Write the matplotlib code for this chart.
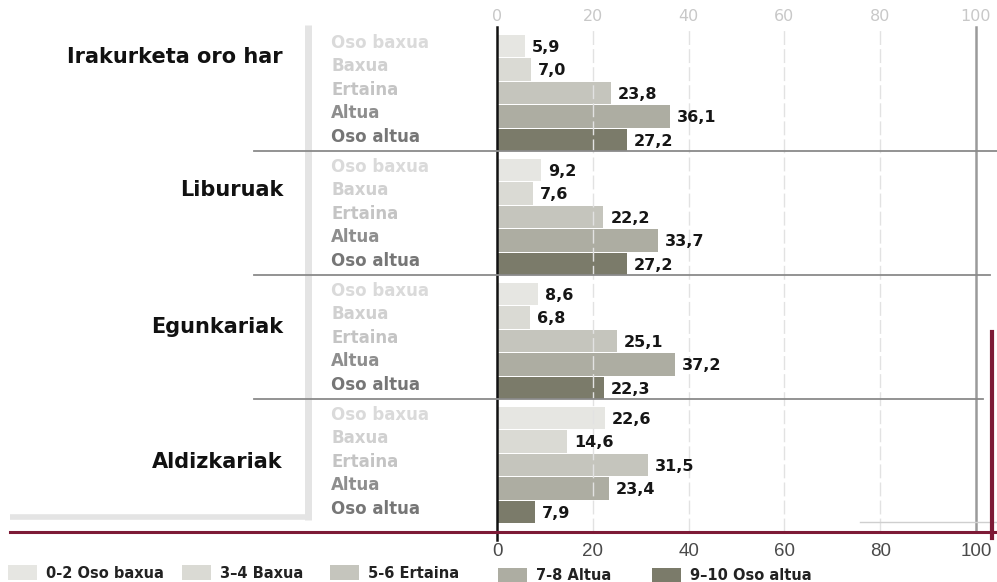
import matplotlib
matplotlib.use('Agg')
import matplotlib.pyplot as plt
from matplotlib.lines import Line2D
from matplotlib.patches import Rectangle
import matplotlib.transforms as mtrans

# ---------------- data ----------------
groups = ["Irakurketa oro har", "Liburuak", "Egunkariak", "Aldizkariak"]
levels = ["Oso baxua", "Baxua", "Ertaina", "Altua", "Oso altua"]
legend_labels = ["0-2 Oso baxua", "3\u20134 Baxua", "5-6 Ertaina", "7-8 Altua", "9\u201310 Oso altua"]
irakurketa = [5.9, 7.0, 23.8, 36.1, 27.2]
liburuak = [9.2, 7.6, 22.2, 33.7, 27.2]
egunkariak = [8.6, 6.8, 25.1, 37.2, 22.3]
aldizkariak = [22.6, 14.6, 31.5, 23.4, 7.9]
ticks = [0, 20, 40, 60, 80, 100]

series = [irakurketa, liburuak, egunkariak, aldizkariak]

# ---------------- style ----------------
bar_colors = ["#e6e6e2", "#dadad4", "#c5c5bd", "#adada2", "#7b7b6a"]
level_text_colors = ["#dadada", "#d0d0d0", "#c4c4c4", "#8e8e8e", "#767676"]

W, H = 997, 582
fig = plt.figure(figsize=(W / 100, H / 100), dpi=100)

def fx(p):
    return p / W

def fy(p):
    return 1 - p / H

ax_top, ax_bot = 27, 532
ax = fig.add_axes([fx(497), fy(ax_bot), 479 / W, (ax_bot - ax_top) / H])

step_px = 23.5
group_px = 124.0
first_px = 46.0
gstep = group_px / step_px

ax.set_xlim(0, 100)
ax.set_ylim((ax_bot - first_px) / step_px, -(first_px - ax_top) / step_px)

# bars
for g, vals in enumerate(series):
    for i, v in enumerate(vals):
        pos = g * gstep + i
        ax.barh(pos, v, height=0.94, color=bar_colors[i], zorder=2, linewidth=0)
        ax.annotate(f"{v:.1f}".replace('.', ','), (v, pos), xytext=(5, -1),
                    textcoords='offset points', va='center', ha='left',
                    fontsize=11.5, fontweight='bold', color='#161616',
                    family='DejaVu Sans', zorder=5)

# grid lines
for t in ticks[1:-1]:
    ax.axvline(t, color='#e2e2e2', lw=1.0, ls=(0, (10, 3)), zorder=3)

# zero line and 100 line
ax.axvline(0, ymin=-8 / (ax_bot - ax_top), ymax=1, color='#111111', lw=1.8,
           zorder=4, clip_on=False)
ax.axvline(100, ymin=2 / (ax_bot - ax_top), ymax=1, color='#9a9a9a', lw=1.8,
           zorder=4, clip_on=False)

# separators
bt = mtrans.blended_transform_factory(fig.transFigure, ax.transData)
sep_right = [1000, 990, 983]
for g in range(3):
    y = g * gstep + 4 + 0.47
    fig.add_artist(Line2D([fx(254), fx(sep_right[g])], [y, y], transform=bt,
                          color='#8a8a8a', lw=1.3, zorder=4))

# left L shape
fig.add_artist(Line2D([fx(308), fx(308)], [fy(25), fy(520)], transform=fig.transFigure,
                      color='#e4e4e4', lw=5, solid_capstyle='butt'))
fig.add_artist(Line2D([fx(10), fx(311)], [fy(517), fy(517)], transform=fig.transFigure,
                      color='#e4e4e4', lw=4, solid_capstyle='butt'))

# red frame lines
fig.add_artist(Line2D([fx(10), 1.0], [fy(532), fy(532)], transform=fig.transFigure,
                      color='#7d1a36', lw=2.2, zorder=6))
fig.add_artist(Line2D([fx(992), fx(992)], [fy(332), fy(538)], transform=fig.transFigure,
                      color='#7d1a36', lw=3, zorder=6))
fig.add_artist(Line2D([fx(860), 1.0], [fy(522), fy(522)], transform=fig.transFigure,
                      color='#cfcfcf', lw=1.0))

# group titles
title_rows = [0.47, 0.85, 1.4, 1.87]
for g, name in enumerate(groups):
    fig.text(fx(283), g * gstep + title_rows[g], name, transform=bt,
             ha='right', va='center', fontsize=15, fontweight='bold',
             color='#111111', family='DejaVu Sans')

# level labels
for g in range(len(groups)):
    for i, lv in enumerate(levels):
        fig.text(fx(331), g * gstep + i - 0.13, lv, transform=bt,
                 ha='left', va='center', fontsize=12, fontweight='bold',
                 color=level_text_colors[i], family='DejaVu Sans')

# axes ticks
ax.set_yticks([])
for s in ax.spines.values():
    s.set_visible(False)
ax.set_xticks(ticks, labels=[str(t) for t in ticks],
              fontfamily=['Liberation Sans Narrow', 'Liberation Sans'])
ax.tick_params(axis='x', length=0, pad=8, labelsize=13.5, labelcolor='#4a4a4a')

sec = ax.secondary_xaxis('top')
sec.set_xticks(ticks, labels=[str(t) for t in ticks], family='DejaVu Sans')
sec.tick_params(axis='x', length=0, pad=2, labelsize=11.5, labelcolor='#c8c8c8')
for s in sec.spines.values():
    s.set_visible(False)

# legend
leg_x = [8, 182, 330, 498, 652]
leg_y = [565, 565, 565, 568, 568]
for i, lab in enumerate(legend_labels):
    fig.add_artist(Rectangle((fx(leg_x[i]), fy(leg_y[i] + 15)), 29 / W, 15 / H,
                             transform=fig.transFigure, color=bar_colors[i], lw=0))
    fig.text(fx(leg_x[i] + 38), fy(leg_y[i] + 8), lab, ha='left', va='center',
             fontsize=10.5, fontweight='bold', color='#222222', family='DejaVu Sans')

fig.savefig('out.png', dpi=100)
